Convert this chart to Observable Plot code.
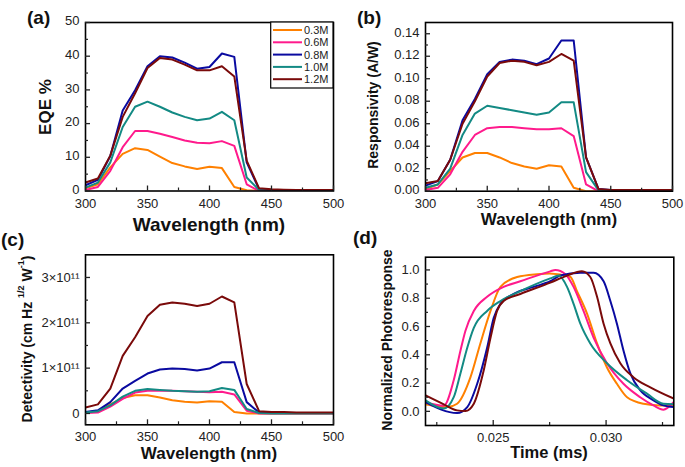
<!DOCTYPE html>
<html><head><meta charset="utf-8">
<script src="https://cdn.jsdelivr.net/npm/d3@7"></script>
<script src="https://cdn.jsdelivr.net/npm/@observablehq/plot@0.6"></script>
<style>
body{margin:0;background:#fff;}
#root{position:relative;width:685px;height:467px;overflow:hidden;font-family:"Liberation Sans",Arial,sans-serif;}
.panel{position:absolute;}
.plabel{position:absolute;font-weight:bold;font-size:19px;color:#111;line-height:1;}
</style></head><body><div id="root"></div>
<script>
// ---------- data ----------
const wavelengths = [300,310,320,330,340,350,360,370,380,390,400,410,420,430,440,450,460,470,480,490,500];
const seriesNames = ["0.3M","0.6M","0.8M","1.0M","1.2M"];
const seriesColors = ["#FF8000","#FF1A8C","#0A0AA0","#138A84","#7A0A0A"];

// (a) EQE %
const eqe03 = [0.8,2,7,11,12.7,12.2,10.2,8.3,7.3,6.5,7.2,6.8,1.2,0.2,0,0,0,0,0,0,0];
const eqe06 = [0.3,1.2,6,13,17.8,17.8,17,16,15,14.3,14.2,14.8,13.4,2,0,0,0,0,0,0,0];
const eqe08 = [1.7,3.3,10.4,23.9,29.9,37,40,39.6,38.1,36.3,36.8,40.8,39.8,8.5,0.5,0.3,0.3,0.2,0.2,0.2,0.2];
const eqe10 = [1,2.5,8.5,19,25,26.5,25,23.3,22,21,21.5,23.5,21,4,0.3,0.1,0.1,0.1,0.1,0.1,0.1];
const eqe12 = [2.5,3.7,10.5,22,29,36.5,39.5,39,37.5,35.8,35.8,37,34,9,0.8,0.5,0.4,0.3,0.3,0.3,0.3];

// (b) Responsivity (A/W)
const resp03 = [0.002,0.006,0.018,0.03,0.034,0.034,0.03,0.025,0.022,0.02,0.023,0.022,0.003,0,0,0,0,0,0,0,0];
const resp06 = [0.001,0.003,0.015,0.035,0.05,0.056,0.057,0.057,0.056,0.055,0.055,0.056,0.049,0.006,0,0,0,0,0,0,0];
const resp08 = [0.005,0.009,0.028,0.063,0.082,0.104,0.115,0.117,0.116,0.113,0.118,0.134,0.134,0.03,0.002,0.001,0.001,0.001,0.001,0.001,0.001];
const resp10 = [0.003,0.006,0.02,0.05,0.069,0.076,0.074,0.072,0.07,0.068,0.07,0.079,0.079,0.017,0.001,0,0,0,0,0,0];
const resp12 = [0.007,0.009,0.028,0.06,0.08,0.102,0.114,0.116,0.115,0.112,0.115,0.122,0.116,0.03,0.002,0.001,0.001,0.001,0.001,0.001,0.001];

// (c) Detectivity, in units of 1e11 Jones
const det03 = [0.02,0.04,0.2,0.34,0.4,0.4,0.35,0.29,0.26,0.24,0.27,0.26,0.03,0,0,0,0,0,0,0,0];
const det06 = [0.01,0.02,0.15,0.32,0.46,0.5,0.5,0.5,0.49,0.48,0.47,0.48,0.42,0.06,0,0,0,0,0,0,0];
const det08 = [0.03,0.07,0.25,0.55,0.72,0.88,0.97,0.99,0.98,0.95,0.99,1.13,1.13,0.25,0.02,0.01,0.01,0.01,0.01,0.01,0.01];
const det10 = [0.02,0.05,0.18,0.37,0.5,0.54,0.52,0.5,0.49,0.48,0.49,0.56,0.52,0.1,0.01,0,0,0,0,0,0];
const det12 = [0.13,0.2,0.55,1.27,1.68,2.15,2.4,2.45,2.42,2.37,2.42,2.58,2.45,0.65,0.05,0.03,0.03,0.02,0.02,0.02,0.02];

// (d) Normalized photoresponse vs time (ms)
const time03 = [0.0220,0.02296,0.0234,0.02399,0.02443,0.02488,0.02532,0.02606,0.02694,0.0275,0.02842,0.02871,0.02916,0.0296,0.03004,0.03048,0.03093,0.03166,0.0324,0.0330];
const resp03t = [0.05,0.03,0.054,0.24,0.48,0.71,0.88,0.95,0.97,0.975,0.95,0.85,0.69,0.48,0.31,0.195,0.10,0.054,0.042,0.042];
const time06 = [0.0220,0.02281,0.02325,0.02355,0.02377,0.02414,0.02473,0.02546,0.0262,0.02753,0.02775,0.0282,0.02856,0.029,0.02945,0.03004,0.03077,0.03151,0.0321,0.03254,0.0330];
const resp06t = [0.065,0.04,0.22,0.43,0.57,0.71,0.81,0.88,0.92,0.99,1.0,0.97,0.88,0.71,0.52,0.34,0.195,0.10,0.042,0.012,0.066];
const time08 = [0.0220,0.0234,0.02385,0.02429,0.02473,0.02502,0.02532,0.02591,0.02679,0.02753,0.02797,0.02886,0.02945,0.02989,0.03019,0.03048,0.03077,0.03107,0.03151,0.0321,0.03254,0.0330];
const resp08t = [0.065,-0.012,0.03,0.195,0.45,0.66,0.76,0.83,0.88,0.92,0.96,0.98,0.98,0.92,0.78,0.62,0.43,0.27,0.15,0.078,0.042,0.03];
const time10 = [0.0220,0.02281,0.02325,0.02355,0.02385,0.02414,0.02473,0.02532,0.0262,0.02753,0.0279,0.02827,0.02856,0.02886,0.0293,0.03004,0.03093,0.03181,0.03254,0.0330];
const resp10t = [0.078,0.02,0.10,0.27,0.45,0.59,0.71,0.78,0.85,0.94,0.96,0.88,0.76,0.62,0.48,0.34,0.22,0.125,0.054,0.05];
const time12 = [0.0220,0.02281,0.0234,0.02377,0.02414,0.02458,0.02488,0.02517,0.02546,0.0262,0.02753,0.02827,0.02893,0.0293,0.0296,0.02989,0.03019,0.03063,0.03122,0.03196,0.0330];
const resp12t = [0.113,0.05,0.007,0.002,0.054,0.29,0.52,0.71,0.78,0.83,0.91,0.96,0.99,0.95,0.81,0.62,0.48,0.34,0.24,0.17,0.09];

// ticks
const wlMajor = [300,350,400,450,500], wlMinor = [325,375,425,475];
const eqeMajor = [0,10,20,30,40,50], eqeMinor = [5,15,25,35,45];
const respMajor = [0,0.02,0.04,0.06,0.08,0.10,0.12,0.14], respMinor = [0.01,0.03,0.05,0.07,0.09,0.11,0.13];
const detMajor = [0,1,2,3], detMinor = [0.5,1.5,2.5];
const timeMajor = [0.025,0.030], timeMinor = [0.0225,0.0275,0.0325];
const prMajor = [0,0.2,0.4,0.6,0.8,1.0], prMinor = [0.1,0.3,0.5,0.7,0.9];

// ---------- helpers ----------
function spectrumRows(arrs){
  const rows=[];
  arrs.forEach((a,i)=>a.forEach((v,j)=>rows.push({x:wavelengths[j],y:v,s:seriesNames[i]})));
  return rows;
}
function pulseRows(ts, vs){
  const rows=[];
  ts.forEach((t,i)=>t.forEach((x,j)=>rows.push({x,y:vs[i][j],s:seriesNames[i]})));
  return rows;
}
const root=document.getElementById("root");
function panel(o){
  const p = Plot.plot({
    width:o.width, height:o.height,
    marginLeft:o.ml, marginRight:o.mr, marginTop:o.mt, marginBottom:o.mb,
    style:{fontFamily:"Liberation Sans, Arial, sans-serif",fontSize:"13px",color:"#222",background:"transparent",overflow:"visible"},
    x:{domain:o.xDomain,label:null},
    y:{domain:o.yDomain,label:null},
    color:{domain:seriesNames,range:seriesColors},
    marks:[
      Plot.line(o.rows,{x:"x",y:"y",stroke:"s",z:"s",strokeWidth:2,curve:o.curve||"linear",clip:true}),
      Plot.frame({stroke:"#000",strokeWidth:1.6}),
      Plot.axisX({ticks:o.xMajor,tickSize:-5,text:null,label:null,strokeWidth:1.3}),
      Plot.axisX({ticks:o.xMinor,tickSize:-3,text:null,label:null,strokeWidth:1.2}),
      Plot.axisX({ticks:o.xMajor,tickSize:0,tickPadding:o.xPad||7,tickFormat:o.xFmt,label:null}),
      Plot.axisY({ticks:o.yMajor,tickSize:-5,text:null,label:null,strokeWidth:1.3}),
      Plot.axisY({ticks:o.yMinor,tickSize:-3,text:null,label:null,strokeWidth:1.2}),
      Plot.axisY({ticks:o.yMajor,tickSize:0,tickPadding:6,dy:o.yDy||0,tickFormat:o.yFmt,label:null})
    ]
  });
  const wrap=document.createElement("div");
  wrap.className="panel";
  wrap.style.left=o.left+"px"; wrap.style.top=o.top+"px";
  wrap.appendChild(p);
  root.appendChild(wrap);
  const svg=d3.select(p);
  // x title
  svg.append("text").attr("x",o.xtX).attr("y",o.xtY).attr("text-anchor","middle")
    .attr("font-weight","bold").attr("font-size",o.xtSize).attr("fill","#111").text(o.xTitle);
  // y title
  const yt=svg.append("text").attr("transform",`translate(${o.ytX},${o.ytY}) rotate(-90)`)
    .attr("text-anchor","middle").attr("dominant-baseline","central")
    .attr("font-weight","bold").attr("font-size",o.ytSize).attr("fill","#111");
  if (typeof o.yTitle==="string") yt.text(o.yTitle);
  else o.yTitle.forEach(part=>{
    const ts=yt.append("tspan").text(part.t);
    if(part.dy) ts.attr("dy",part.dy);
    if(part.size) ts.attr("font-size",part.size);
  });
  // panel tag
  const tag=document.createElement("div");
  tag.className="plabel"; tag.textContent=o.tag;
  tag.style.left=o.tagX+"px"; tag.style.top=o.tagY+"px";
  root.appendChild(tag);
  return svg;
}

// ---------- panels ----------
const svgA = panel({left:0,top:0,width:342,height:232,ml:85,mr:9,mt:22,mb:41.5,
  xDomain:[300,500],yDomain:[0,50],rows:spectrumRows([eqe03,eqe06,eqe08,eqe10,eqe12]),
  xMajor:wlMajor,xMinor:wlMinor,yMajor:eqeMajor,yMinor:eqeMinor,
  xFmt:d=>String(d),yFmt:d=>String(d),xPad:8,yDy:-1.5,
  xTitle:"Wavelength (nm)",xtX:209,xtY:231,xtSize:19,
  yTitle:"EQE %",ytX:45,ytY:107,ytSize:17,
  tag:"(a)",tagX:27,tagY:8});

// legend inside (a)
const lg = svgA.append("g");
lg.append("rect").attr("x",270.7).attr("y",22).attr("width",62.3).attr("height",66)
  .attr("fill","#fff").attr("stroke","#000").attr("stroke-width",1.2);
seriesNames.forEach((n,i)=>{
  const y=30+i*12.3;
  lg.append("line").attr("x1",273).attr("x2",302).attr("y1",y).attr("y2",y)
    .attr("stroke",seriesColors[i]).attr("stroke-width",2);
  lg.append("text").attr("x",304).attr("y",y).attr("dominant-baseline","central")
    .attr("text-anchor","start").attr("font-size",11).attr("fill","#222").text(n);
});

panel({left:340,top:0,width:342,height:232,ml:85,mr:10,mt:22,mb:41.3,
  xDomain:[300,500],yDomain:[0,0.15],rows:spectrumRows([resp03,resp06,resp08,resp10,resp12]),
  xMajor:wlMajor,xMinor:wlMinor,yMajor:respMajor,yMinor:respMinor,
  xFmt:d=>String(d),yFmt:d3.format(".2f"),xPad:8,yDy:-1,
  xTitle:"Wavelength (nm)",xtX:209,xtY:225,xtSize:17,
  yTitle:"Responsivity (A/W)",ytX:33,ytY:105,ytSize:14,
  tag:"(b)",tagX:357,tagY:8});

panel({left:0,top:232,width:342,height:235,ml:85,mr:9,mt:22.3,mb:42.7,
  xDomain:[300,500],yDomain:[-0.25,3.5],rows:spectrumRows([det03,det06,det08,det10,det12]),
  xMajor:wlMajor,xMinor:wlMinor,yMajor:detMajor,yMinor:detMinor,
  xFmt:d=>String(d),yFmt:d=>d===0?"0":d+"×10¹¹",
  xTitle:"Wavelength (nm)",xtX:209,xtY:227,xtSize:17,
  yTitle:[{t:"Detectivity (cm Hz "},{t:"1/2",dy:-6,size:9},{t:" W",dy:6},{t:"-1",dy:-6,size:9},{t:")",dy:6}],
  ytX:27,ytY:107,ytSize:14,
  tag:"(c)",tagX:1,tagY:230});

panel({left:340,top:232,width:345,height:235,ml:85,mr:11.7,mt:24.7,mb:42,
  xDomain:[0.022,0.033],yDomain:[-0.1,1.09],
  rows:pulseRows([time03,time06,time08,time10,time12],[resp03t,resp06t,resp08t,resp10t,resp12t]),
  curve:"monotone-x",
  xMajor:timeMajor,xMinor:timeMinor,yMajor:prMajor,yMinor:prMinor,
  xFmt:d3.format(".3f"),yFmt:d3.format(".1f"),
  xTitle:"Time (ms)",xtX:209,xtY:226,xtSize:16.5,
  yTitle:"Normalized Photoresponse",ytX:47,ytY:108,ytSize:14,
  tag:"(d)",tagX:353,tagY:228});
</script></body></html>
